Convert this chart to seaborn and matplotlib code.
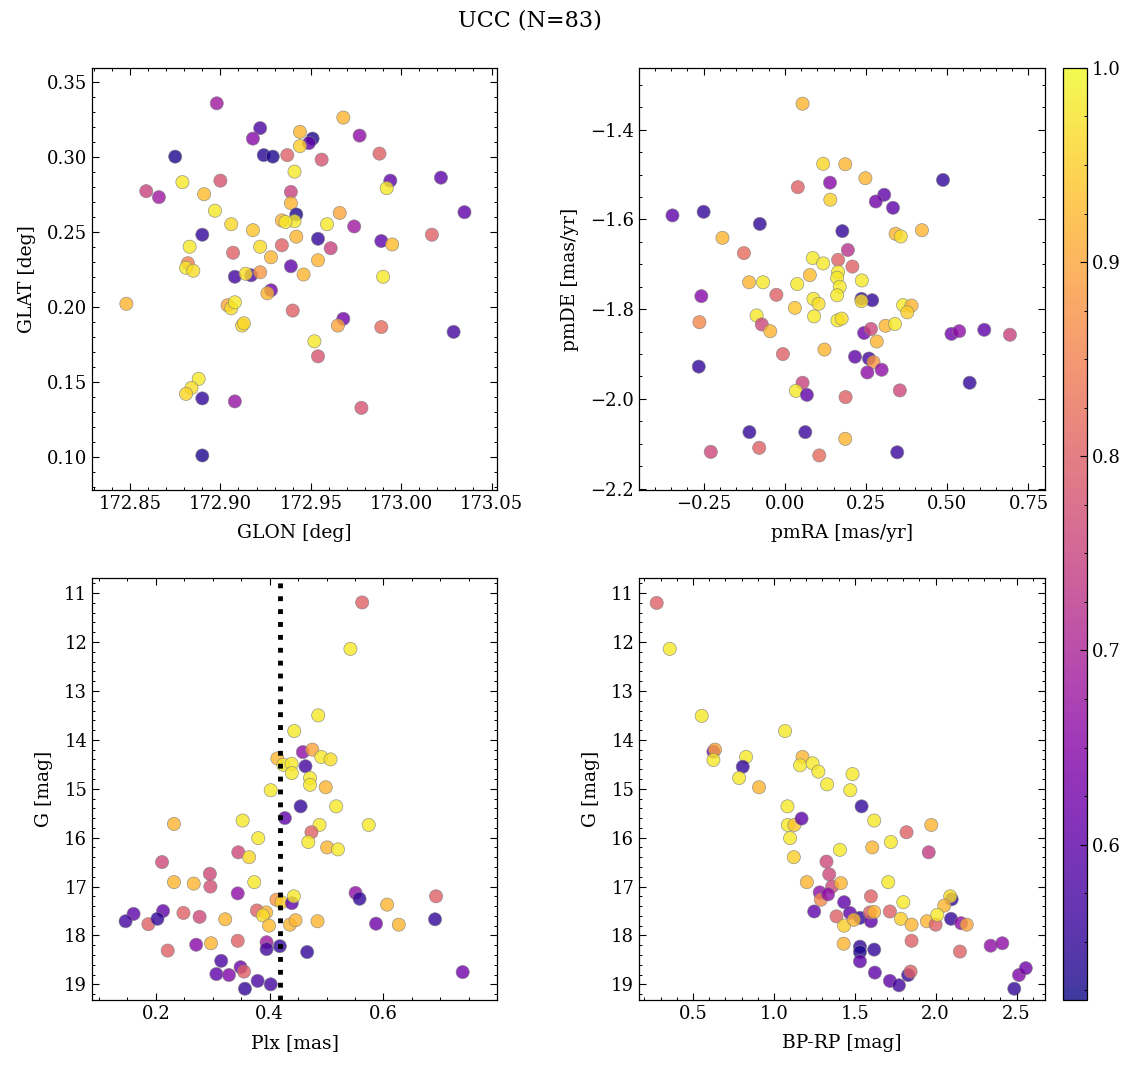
import numpy as np
import pandas as pd
import matplotlib
matplotlib.use("Agg")
import matplotlib.pyplot as plt
import seaborn as sns
from matplotlib.colors import Normalize
from matplotlib.cm import ScalarMappable
from matplotlib.ticker import AutoMinorLocator, MultipleLocator

# --- positions (GLON / GLAT) ---
glon = [172.898, 172.922, 172.918, 172.875, 172.924, 172.929, 172.937, 172.879, 172.900, 172.859,
        172.866, 172.891, 172.897, 172.906, 172.918, 172.890, 172.883, 172.922, 172.907, 172.928,
        172.934, 172.882, 172.881, 172.885, 172.908, 172.917, 172.914, 172.922, 172.939, 172.928,
        172.926, 172.848, 172.904, 172.906, 172.908, 172.912, 172.913, 172.940, 172.888, 172.884,
        172.881, 172.890, 172.908, 172.890, 172.968, 172.944, 172.951, 172.949, 172.944, 172.977,
        172.988, 172.956, 172.941, 172.994, 172.992, 173.022, 172.939, 172.939, 173.035, 172.966,
        172.942, 172.941, 172.959, 172.974, 172.942, 172.954, 172.961, 172.989, 172.995, 173.017,
        172.954, 172.946, 172.990, 172.968, 172.965, 172.989, 173.029, 172.952, 172.954, 172.978,
        172.934, 172.936]
glat = [0.3355, 0.319, 0.312, 0.300, 0.301, 0.300, 0.301, 0.283, 0.284, 0.277,
        0.273, 0.275, 0.264, 0.255, 0.251, 0.248, 0.240, 0.240, 0.236, 0.233,
        0.241, 0.229, 0.226, 0.224, 0.220, 0.221, 0.222, 0.223, 0.227, 0.211,
        0.209, 0.202, 0.201, 0.199, 0.203, 0.1875, 0.189, 0.1975, 0.152, 0.146,
        0.142, 0.139, 0.137, 0.101, 0.326, 0.3165, 0.312, 0.309, 0.307, 0.314,
        0.302, 0.298, 0.290, 0.284, 0.279, 0.286, 0.2765, 0.269, 0.263, 0.2625,
        0.2615, 0.257, 0.255, 0.2535, 0.2467, 0.2453, 0.239, 0.2438, 0.2415, 0.248,
        0.231, 0.2215, 0.220, 0.192, 0.1875, 0.1865, 0.1833, 0.177, 0.167, 0.1327,
        0.2575, 0.2565]
p_pos = [0.68, 0.58, 0.65, 0.53, 0.54, 0.53, 0.80, 0.98, 0.78, 0.75,
         0.68, 0.93, 0.98, 0.96, 0.94, 0.55, 0.98, 0.97, 0.80, 0.92,
         0.80, 0.85, 0.98, 0.97, 0.57, 0.58, 0.97, 0.88, 0.60, 0.62,
         0.92, 0.92, 0.90, 0.97, 0.98, 0.97, 0.96, 0.80, 0.98, 0.97,
         0.96, 0.55, 0.67, 0.53, 0.92, 0.92, 0.53, 0.60, 0.95, 0.66,
         0.80, 0.78, 0.98, 0.60, 0.98, 0.60, 0.75, 0.92, 0.60, 0.90,
         0.53, 0.98, 0.98, 0.68, 0.92, 0.55, 0.75, 0.60, 0.93, 0.80,
         0.92, 0.92, 0.98, 0.62, 0.90, 0.82, 0.57, 0.98, 0.78, 0.78,
         0.92, 0.98]

# --- proper motions ---
pmra = [0.0545, 0.118, 0.040, -0.346, -0.250, -0.077, -0.192, -0.126, 0.086, 0.118,
        0.077, -0.110, -0.067, 0.038, -0.026, -0.257, 0.088, 0.104, 0.031, 0.090,
        -0.087, -0.263, -0.071, -0.045, 0.122, -0.006, -0.265, 0.0545, 0.034, 0.068,
        -0.109, 0.063, -0.228, -0.079, 0.106, 0.186, 0.139, 0.248, 0.140, 0.487,
        0.306, 0.280, 0.333, 0.177, 0.341, 0.357, 0.422, 0.194, 0.164, 0.208,
        0.164, 0.161, 0.169, 0.161, 0.237, 0.236, 0.269, 0.236, 0.162, 0.175,
        0.364, 0.390, 0.377, 0.244, 0.265, 0.310, 0.339, 0.283, 0.513, 0.537,
        0.614, 0.693, 0.216, 0.259, 0.273, 0.254, 0.298, 0.354, 0.187, 0.569,
        0.186, 0.346]
pmde = [-1.342, -1.476, -1.528, -1.591, -1.583, -1.610, -1.641, -1.675, -1.686, -1.698,
        -1.724, -1.740, -1.740, -1.744, -1.768, -1.771, -1.777, -1.788, -1.797, -1.816,
        -1.814, -1.829, -1.834, -1.849, -1.890, -1.900, -1.928, -1.964, -1.982, -1.991,
        -2.074, -2.074, -2.118, -2.109, -2.126, -1.477, -1.518, -1.508, -1.556, -1.512,
        -1.545, -1.560, -1.574, -1.626, -1.632, -1.638, -1.624, -1.668, -1.690, -1.705,
        -1.717, -1.730, -1.750, -1.769, -1.736, -1.777, -1.780, -1.782, -1.825, -1.821,
        -1.791, -1.792, -1.807, -1.853, -1.844, -1.837, -1.833, -1.872, -1.855, -1.849,
        -1.846, -1.857, -1.906, -1.910, -1.918, -1.941, -1.935, -1.981, -1.996, -1.964,
        -2.089, -2.119]
p_pm = [0.92, 0.96, 0.80, 0.60, 0.55, 0.55, 0.92, 0.82, 0.98, 0.98,
        0.93, 0.92, 0.98, 0.98, 0.80, 0.65, 0.98, 0.97, 0.94, 0.98,
        0.98, 0.86, 0.76, 0.92, 0.92, 0.80, 0.55, 0.75, 0.98, 0.60,
        0.55, 0.56, 0.76, 0.80, 0.82, 0.92, 0.65, 0.92, 0.95, 0.55,
        0.60, 0.62, 0.60, 0.55, 0.92, 0.97, 0.92, 0.72, 0.80, 0.80,
        0.98, 0.98, 0.98, 0.98, 0.98, 0.55, 0.55, 0.97, 0.98, 0.97,
        0.98, 0.92, 0.95, 0.62, 0.76, 0.92, 0.98, 0.92, 0.62, 0.66,
        0.60, 0.75, 0.60, 0.57, 0.88, 0.66, 0.66, 0.76, 0.80, 0.55,
        0.92, 0.56]

# --- parallax vs G ---
plx = [0.232, 0.3526, 0.380, 0.345, 0.364, 0.211, 0.295, 0.296, 0.232, 0.2667,
       0.373, 0.344, 0.412, 0.421, 0.439, 0.3777, 0.394, 0.388, 0.399, 0.4356,
       0.161, 0.147, 0.187, 0.2128, 0.203, 0.2486, 0.277, 0.322, 0.221, 0.271,
       0.297, 0.344, 0.3947, 0.3947, 0.418, 0.315, 0.3065, 0.3286, 0.349, 0.355,
       0.3567, 0.379, 0.402, 0.4136, 0.424, 0.4386, 0.439, 0.4433, 0.402, 0.4545,
       0.4268, 0.5626, 0.542, 0.4854, 0.4584, 0.475, 0.4907, 0.507, 0.463, 0.471,
       0.471, 0.4986, 0.517, 0.4877, 0.4735, 0.468, 0.5742, 0.501, 0.520, 0.4426,
       0.551, 0.558, 0.6065, 0.6924, 0.6906, 0.587, 0.627, 0.4456, 0.4842, 0.466,
       0.7392]
g_plx = [15.72, 15.65, 16.01, 16.30, 16.40, 16.50, 16.74, 17.00, 16.91, 16.94,
         16.91, 17.14, 17.27, 17.32, 17.34, 17.49, 17.53, 17.59, 17.80, 17.78,
         17.56, 17.71, 17.77, 17.50, 17.66, 17.54, 17.62, 17.67, 18.31, 18.19,
         18.16, 18.11, 18.14, 18.28, 18.22, 18.52, 18.79, 18.81, 18.65, 18.74,
         19.09, 18.93, 19.00, 14.38, 14.51, 14.49, 14.68, 13.82, 15.03, 15.36,
         15.60, 11.19, 12.14, 13.50, 14.25, 14.20, 14.35, 14.40, 14.54, 14.78,
         14.92, 14.97, 15.36, 15.74, 15.89, 16.09, 15.74, 16.20, 16.24, 17.20,
         17.13, 17.25, 17.37, 17.20, 17.67, 17.76, 17.78, 17.69, 17.71, 18.34,
         18.75]
p_plx = [0.92, 0.98, 0.98, 0.76, 0.96, 0.76, 0.76, 0.77, 0.92, 0.92,
         0.98, 0.66, 0.88, 0.95, 0.60, 0.80, 0.92, 0.97, 0.93, 0.92,
         0.60, 0.57, 0.80, 0.60, 0.55, 0.80, 0.76, 0.92, 0.80, 0.65,
         0.92, 0.80, 0.68, 0.57, 0.55, 0.58, 0.60, 0.64, 0.62, 0.80,
         0.55, 0.58, 0.57, 0.92, 0.98, 0.98, 0.98, 0.98, 0.98, 0.55,
         0.60, 0.80, 0.98, 0.98, 0.66, 0.90, 0.98, 0.97, 0.57, 0.98,
         0.98, 0.92, 0.98, 0.98, 0.80, 0.98, 0.98, 0.92, 0.98, 0.98,
         0.66, 0.55, 0.92, 0.80, 0.55, 0.62, 0.92, 0.92, 0.92, 0.55,
         0.62]
plx_line = 0.4175

# --- colour vs G ---
bprp = [0.2754, 0.356, 0.554, 1.069, 0.626, 0.636, 0.626, 0.828, 0.8075, 0.785,
        0.908, 1.177, 1.162, 1.239, 1.275, 1.084, 1.086, 1.127, 1.171, 1.100,
        1.123, 1.2036, 1.249, 1.283, 1.290, 1.329, 1.486, 1.472, 1.542, 1.620,
        1.820, 1.973, 1.723, 1.608, 1.408, 1.957, 1.325, 1.342, 1.360, 1.414,
        1.335, 1.707, 1.600, 1.434, 1.800, 2.099, 2.090, 2.053, 1.470, 1.532,
        1.600, 1.593, 1.620, 1.717, 1.387, 1.434, 1.494, 1.785, 1.851, 1.946,
        2.000, 2.010, 2.095, 2.157, 2.192, 1.851, 1.431, 1.532, 1.532, 1.620,
        2.150, 2.340, 2.412, 1.532, 1.624, 1.717, 1.773, 1.830, 1.845, 2.515,
        2.557, 2.486]
g_cmd = [11.20, 12.14, 13.51, 13.82, 14.24, 14.20, 14.41, 14.35, 14.55, 14.78,
         14.97, 14.35, 14.52, 14.48, 14.65, 15.36, 15.74, 15.74, 15.61, 16.01,
         16.40, 16.91, 17.51, 17.12, 17.27, 14.91, 14.70, 15.03, 15.36, 15.65,
         15.89, 15.74, 16.09, 16.20, 16.25, 16.30, 16.49, 16.75, 17.00, 16.93,
         17.16, 16.91, 17.20, 17.32, 17.32, 17.26, 17.20, 17.39, 17.54, 17.64,
         17.71, 17.53, 17.52, 17.51, 17.61, 17.80, 17.68, 17.66, 17.78, 17.71,
         17.78, 17.58, 17.66, 17.75, 17.78, 18.11, 18.17, 18.23, 18.34, 18.29,
         18.33, 18.21, 18.16, 18.53, 18.76, 18.93, 19.02, 18.81, 18.74, 18.81,
         18.67, 19.09]
p_cmd = [0.80, 0.98, 0.98, 0.98, 0.62, 0.90, 0.98, 0.98, 0.55, 0.98,
         0.92, 0.92, 0.98, 0.98, 0.98, 0.98, 0.98, 0.94, 0.60, 0.98,
         0.95, 0.92, 0.60, 0.66, 0.86, 0.98, 0.98, 0.98, 0.55, 0.98,
         0.80, 0.92, 0.98, 0.92, 0.98, 0.74, 0.76, 0.76, 0.76, 0.92,
         0.66, 0.98, 0.80, 0.60, 0.98, 0.55, 0.97, 0.92, 0.60, 0.55,
         0.60, 0.80, 0.92, 0.80, 0.80, 0.95, 0.92, 0.95, 0.92, 0.92,
         0.80, 0.98, 0.55, 0.66, 0.90, 0.80, 0.92, 0.55, 0.53, 0.55,
         0.80, 0.66, 0.66, 0.60, 0.60, 0.60, 0.57, 0.55, 0.80, 0.64,
         0.62, 0.55]

vmin, vmax = 0.52, 1.0
n_members = 83

plt.rcParams.update({
    "font.family": "serif",
    "font.serif": ["DejaVu Serif"],
    "font.size": 13,
    "axes.labelsize": 13.5,
    "axes.labelpad": 8,
    "xtick.labelsize": 13, "ytick.labelsize": 13,
    "axes.linewidth": 0.9,
    "xtick.direction": "in", "ytick.direction": "in",
    "xtick.top": True, "ytick.right": True,
    "xtick.minor.visible": True, "ytick.minor.visible": True,
    "xtick.major.size": 5, "ytick.major.size": 5,
    "xtick.minor.size": 2.5, "ytick.minor.size": 2.5,
    "xtick.major.width": 0.8, "ytick.major.width": 0.8,
    "xtick.minor.width": 0.7, "ytick.minor.width": 0.7,
})

fig = plt.figure(figsize=(11.36, 10.68), dpi=100)
ax1 = fig.add_axes([0.0810, 0.5412, 0.3565, 0.3951])
ax2 = fig.add_axes([0.5625, 0.5412, 0.3574, 0.3951])
ax3 = fig.add_axes([0.0810, 0.0637, 0.3565, 0.3951])
ax4 = fig.add_axes([0.5625, 0.0637, 0.3574, 0.3951])
cax = fig.add_axes([0.9357, 0.0637, 0.0211, 0.8727])


def scatter(ax, x, y, p):
    df = pd.DataFrame({"x": x, "y": y, "p": p})
    sns.scatterplot(data=df, x="x", y="y", hue="p", palette="plasma",
                    hue_norm=(vmin, vmax), s=90, alpha=0.8,
                    edgecolor="grey", linewidth=0.5, legend=False, ax=ax)


scatter(ax1, glon, glat, p_pos)
ax1.set_xlim(172.829, 173.053)
ax1.set_ylim(0.078, 0.359)
ax1.xaxis.set_major_locator(MultipleLocator(0.05))
ax1.yaxis.set_major_locator(MultipleLocator(0.05))
ax1.set_xlabel("GLON [deg]")
ax1.set_ylabel("GLAT [deg]")

scatter(ax2, pmra, pmde, p_pm)
ax2.set_xlim(-0.449, 0.801)
ax2.set_ylim(-2.203, -1.2625)
ax2.xaxis.set_major_locator(MultipleLocator(0.25))
ax2.yaxis.set_major_locator(MultipleLocator(0.2))
ax2.set_xlabel("pmRA [mas/yr]")
ax2.set_ylabel("pmDE [mas/yr]")

scatter(ax3, plx, g_plx, p_plx)
ax3.axvline(plx_line, color="black", ls=":", lw=3.5)
ax3.set_xlim(0.088, 0.7995)
ax3.set_ylim(19.32, 10.69)
ax3.xaxis.set_major_locator(MultipleLocator(0.2))
ax3.yaxis.set_major_locator(MultipleLocator(1))
ax3.set_xlabel("Plx [mas]")
ax3.set_ylabel("G [mag]")

scatter(ax4, bprp, g_cmd, p_cmd)
ax4.set_xlim(0.166, 2.676)
ax4.set_ylim(19.32, 10.69)
ax4.xaxis.set_major_locator(MultipleLocator(0.5))
ax4.yaxis.set_major_locator(MultipleLocator(1))
ax4.set_xlabel("BP-RP [mag]")
ax4.set_ylabel("G [mag]")

for ax in (ax1, ax2, ax3, ax4):
    ax.xaxis.set_minor_locator(AutoMinorLocator())
    ax.yaxis.set_minor_locator(AutoMinorLocator())

sm = ScalarMappable(norm=Normalize(vmin, vmax), cmap="plasma")
cb = fig.colorbar(sm, cax=cax, alpha=0.8)
cb.set_ticks([0.6, 0.7, 0.8, 0.9, 1.0])
cax.yaxis.set_minor_locator(AutoMinorLocator(4))
cax.tick_params(which="both", direction="in", right=True, left=False)
cb.outline.set_linewidth(0.9)

fig.text(0.4665, 0.981, f"UCC (N={n_members})", ha="center", va="center", fontsize=16)

fig.savefig("out.png", dpi=100)
